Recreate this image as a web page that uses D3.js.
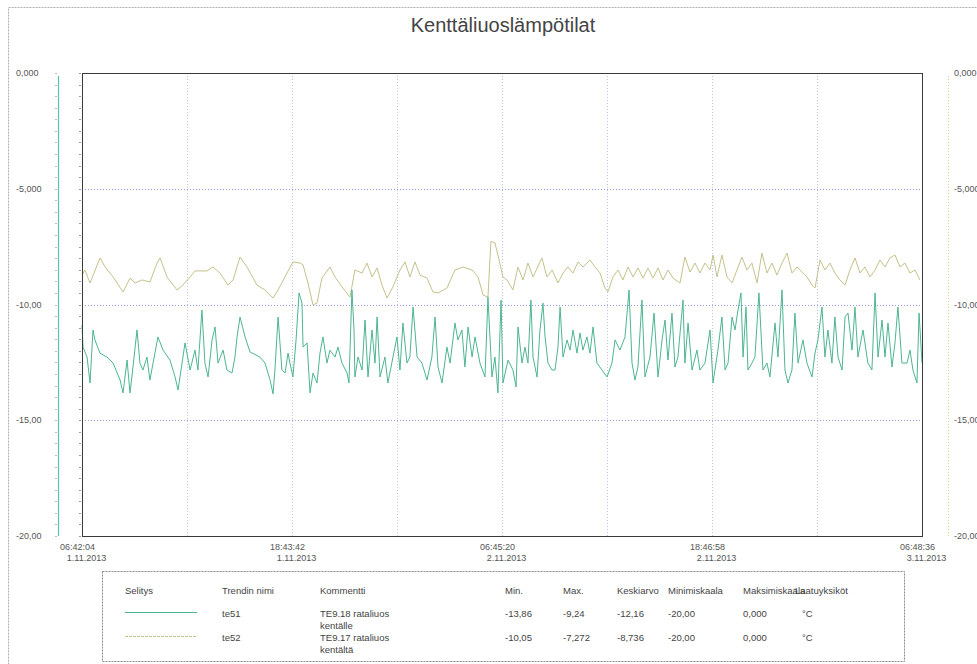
<!DOCTYPE html>
<html><head><meta charset="utf-8">
<script src="https://cdn.jsdelivr.net/npm/d3@7"></script>
<style>body{margin:0;background:#fff;}svg{display:block;font-family:"Liberation Sans",Arial,sans-serif;}</style>
</head><body>
<svg id="c" width="977" height="664"></svg>
<script>
const title = "Kenttäliuoslämpötilat";
const startTime = new Date(2013, 10, 1, 6, 42, 4);
const spanSeconds = 48 * 3600 + 6 * 60 + 32;
const xTickCount = 4;
const yTicks = [0, -5, -10, -15, -20];
const yTickLabels = ["0,000", "-5,000", "-10,00", "-15,00", "-20,00"];

// te52 (hours from start, °C)
const t52 = [0,0.17,0.46,1.03,1.32,1.78,2.35,2.75,3.04,3.44,3.89,4.30,4.47,4.87,5.44,5.78,6.19,6.47,7.16,7.50,7.90,8.36,8.65,9.05,9.45,10.02,10.48,10.94,11.23,11.74,12.08,12.49,12.66,12.94,13.23,13.46,13.74,14.20,14.49,14.89,15.35,15.63,16.04,16.32,16.61,16.90,17.18,17.47,17.81,18.21,18.50,18.78,19.07,19.36,19.76,20.10,20.39,20.90,21.36,21.82,22.34,22.68,22.97,23.25,23.42,23.65,23.82,24.11,24.34,24.68,24.97,25.26,25.54,25.83,26.34,26.63,26.92,27.26,27.55,27.83,28.12,28.41,28.69,29.09,29.38,29.67,29.95,30.12,30.41,30.70,30.98,31.27,31.56,31.84,32.13,32.41,32.70,32.99,33.27,33.56,33.85,34.25,34.53,34.82,35.11,35.39,35.68,35.97,36.14,36.37,36.65,36.94,37.23,37.51,37.80,38.08,38.37,38.66,38.94,39.23,39.52,39.80,40.09,40.38,40.66,40.95,41.23,41.52,41.81,41.98,42.27,42.55,42.84,43.12,43.41,43.70,43.98,44.27,44.56,44.84,45.13,45.42,45.70,45.99,46.27,46.56,46.85,47.13,47.42,47.71,47.99];
const v52 = [-8.73,-8.51,-9.07,-7.99,-8.38,-8.81,-9.46,-8.86,-9.07,-8.94,-9.03,-8.21,-7.99,-8.81,-9.37,-9.16,-8.81,-8.55,-8.55,-8.38,-8.64,-9.16,-8.94,-7.95,-8.38,-9.16,-9.37,-9.72,-9.37,-8.64,-8.16,-8.21,-8.29,-9.07,-10.02,-9.94,-8.86,-8.38,-8.81,-9.24,-9.68,-8.51,-8.64,-8.21,-8.81,-8.42,-9.16,-9.72,-9.24,-8.51,-8.16,-8.81,-8.16,-8.73,-8.86,-9.46,-9.50,-9.29,-8.51,-8.38,-8.51,-8.81,-9.59,-9.68,-7.27,-7.34,-7.86,-8.81,-8.94,-9.37,-8.38,-8.94,-8.21,-8.81,-7.99,-8.81,-8.51,-9.07,-8.64,-8.38,-8.64,-8.16,-8.38,-8.08,-8.38,-8.64,-9.29,-9.46,-8.81,-8.51,-8.94,-8.38,-8.81,-8.42,-8.86,-8.42,-8.86,-8.42,-8.94,-8.51,-8.86,-9.07,-7.95,-8.60,-8.21,-8.64,-8.21,-8.51,-7.86,-8.81,-7.86,-8.81,-9.07,-8.51,-7.95,-8.51,-8.21,-9.07,-7.78,-8.64,-8.21,-8.73,-8.21,-7.78,-8.64,-8.38,-8.60,-8.81,-9.16,-9.29,-8.08,-8.51,-8.21,-8.64,-8.94,-9.16,-8.51,-7.99,-8.64,-8.38,-8.81,-8.51,-8.08,-8.38,-7.99,-7.86,-8.38,-8.21,-8.64,-8.51,-8.94];

// te51 (hours from start, °C)
const t51 = [0,0.06,0.29,0.46,0.63,0.74,1.03,1.43,1.78,2.18,2.35,2.58,2.75,2.92,3.15,3.32,3.49,3.72,3.89,4.07,4.35,4.64,5.04,5.33,5.50,5.73,5.90,6.19,6.47,6.64,6.87,7.04,7.22,7.45,7.62,7.79,8.08,8.30,8.59,8.76,8.88,9.05,9.34,9.62,10.19,10.48,10.77,10.94,11.05,11.23,11.45,11.63,11.80,11.91,12.08,12.26,12.43,12.60,12.66,12.89,13.06,13.23,13.46,13.63,13.80,14.03,14.20,14.49,14.66,14.89,15.18,15.29,15.46,15.58,15.63,15.81,16.04,16.21,16.38,16.61,16.78,16.90,17.07,17.35,17.52,17.81,18.04,18.21,18.38,18.61,18.78,18.96,19.19,19.47,19.76,20.04,20.22,20.39,20.62,20.90,21.08,21.36,21.53,21.76,21.93,22.11,22.34,22.51,22.79,23.08,23.25,23.48,23.65,23.82,24.00,24.11,24.40,24.68,24.86,24.97,25.20,25.37,25.54,25.71,25.83,26.06,26.23,26.40,26.52,26.69,26.92,27.09,27.26,27.38,27.55,27.78,27.95,28.12,28.35,28.52,28.69,28.92,29.09,29.27,29.49,29.78,30.07,30.35,30.53,30.81,31.10,31.33,31.50,31.67,31.84,32.07,32.24,32.53,32.76,32.99,33.22,33.39,33.56,33.79,33.96,34.13,34.42,34.53,34.71,34.94,35.22,35.39,35.68,35.97,36.14,36.42,36.65,36.83,37.00,37.23,37.40,37.57,37.74,37.86,38.03,38.14,38.37,38.54,38.77,39.00,39.23,39.40,39.69,39.86,40.09,40.26,40.43,40.66,40.83,41.01,41.29,41.52,41.81,41.98,42.15,42.38,42.55,42.72,42.95,43.12,43.30,43.53,43.70,43.87,44.10,44.27,44.44,44.73,45.01,45.24,45.42,45.59,45.82,45.99,46.16,46.39,46.56,46.73,46.96,47.25,47.42,47.59,47.82,47.94,48.11];
const v51 = [-10.89,-11.84,-12.27,-13.39,-11.10,-11.53,-12.10,-12.27,-12.53,-13.26,-13.82,-12.40,-13.82,-12.70,-11.10,-12.53,-12.83,-12.27,-13.26,-12.53,-11.40,-11.97,-12.40,-13.13,-13.69,-12.53,-11.66,-12.83,-11.97,-12.83,-10.24,-12.53,-13.13,-11.53,-10.97,-12.53,-11.97,-12.83,-12.96,-12.27,-11.40,-10.54,-11.40,-12.05,-12.27,-12.53,-13.26,-13.86,-12.83,-10.54,-12.83,-12.96,-12.10,-12.53,-13.13,-11.53,-9.50,-9.94,-11.84,-11.66,-13.82,-12.96,-13.39,-12.10,-11.40,-12.53,-11.97,-12.27,-11.84,-12.53,-12.96,-13.39,-9.37,-11.10,-13.13,-12.27,-12.83,-10.67,-13.13,-11.10,-12.53,-10.54,-13.13,-12.27,-13.39,-12.27,-11.40,-12.83,-10.80,-12.53,-12.27,-10.11,-12.27,-12.53,-13.26,-12.27,-10.54,-12.70,-13.39,-11.84,-12.53,-10.80,-11.53,-11.10,-12.70,-10.97,-12.27,-11.40,-12.53,-13.13,-9.68,-13.13,-12.27,-13.82,-9.81,-13.39,-12.40,-12.83,-13.56,-10.97,-12.53,-11.84,-12.53,-9.81,-12.27,-13.13,-11.10,-9.94,-11.40,-12.53,-12.83,-12.83,-11.84,-10.11,-12.27,-11.53,-11.97,-11.10,-12.10,-11.23,-11.97,-11.40,-12.10,-10.97,-12.53,-12.83,-13.13,-12.53,-11.53,-11.97,-11.40,-9.37,-12.53,-13.26,-12.70,-9.81,-13.13,-12.27,-10.37,-13.13,-11.53,-10.67,-12.40,-10.37,-12.70,-12.27,-9.81,-12.53,-10.80,-12.83,-11.97,-12.83,-12.53,-11.10,-13.39,-11.97,-10.54,-12.83,-12.53,-10.54,-11.10,-10.24,-9.50,-12.27,-10.11,-12.83,-12.53,-12.27,-9.50,-12.83,-12.53,-13.13,-10.80,-12.27,-9.37,-12.83,-13.39,-12.83,-10.37,-12.53,-11.53,-12.53,-13.13,-12.10,-11.53,-10.11,-12.27,-11.10,-12.53,-10.54,-12.27,-12.83,-10.54,-10.37,-11.97,-10.11,-12.27,-11.10,-12.53,-12.83,-9.50,-12.27,-10.67,-12.27,-10.80,-12.70,-11.66,-10.11,-12.53,-12.53,-11.97,-12.83,-13.39,-10.37,-12.53];

const legendHeaders = ["Selitys", "Trendin nimi", "Kommentti", "Min.", "Max.", "Keskiarvo", "Minimiskaala", "Maksimiskaala", "Laatuyksiköt"];
const seriesNames = ["te51", "te52"];
const seriesComments = [["TE9.18 rataliuos", "kentälle"], ["TE9.17 rataliuos", "kentältä"]];
const seriesMin = ["-13,86", "-10,05"];
const seriesMax = ["-9,24", "-7,272"];
const seriesMean = ["-12,16", "-8,736"];
const seriesScaleMin = ["-20,00", "-20,00"];
const seriesScaleMax = ["0,000", "0,000"];
const seriesUnit = ["°C", "°C"];
const seriesColors = ["#4db592", "#c6c18c"];

const svg = d3.select("#c");
const plot = {l: 82, r: 922, t: 73, b: 536};
const endTime = new Date(startTime.getTime() + spanSeconds * 1000);
const x = d3.scaleTime().domain([startTime, endTime]).range([plot.l, plot.r]);
const y = d3.scaleLinear().domain([-20, 0]).range([plot.b, plot.t]);
const toDate = h => new Date(startTime.getTime() + h * 3600000);

// outer frame
svg.append("rect").attr("x", 8.5).attr("y", 7.5).attr("width", 980).attr("height", 700)
  .attr("fill", "none").attr("stroke", "#b0b0b0").attr("stroke-dasharray", "2,1");

// title
svg.append("text").attr("x", 503).attr("y", 32).attr("text-anchor", "middle")
  .attr("font-size", 20).attr("fill", "#444").text(title);

// grid
const stepMs = spanSeconds * 1000 / xTickCount;
const gridTimes = d3.range(1, xTickCount * 2).map(i => new Date(startTime.getTime() + i * stepMs / 2));
svg.append("g").selectAll("line").data(gridTimes).join("line")
  .attr("x1", d => Math.round(x(d)) + 0.5).attr("x2", d => Math.round(x(d)) + 0.5)
  .attr("y1", plot.t).attr("y2", plot.b)
  .attr("stroke", "#b8c4ea").attr("stroke-dasharray", "1,2");
svg.append("g").selectAll("line").data(yTicks.slice(1, -1)).join("line")
  .attr("x1", plot.l).attr("x2", plot.r)
  .attr("y1", d => Math.round(y(d)) + 0.5).attr("y2", d => Math.round(y(d)) + 0.5)
  .attr("stroke", "#8e9ede").attr("stroke-dasharray", "1,2");

// minor ticks
const minor = d3.range(0, -20.01, -0.5);
svg.append("g").selectAll("line").data(minor).join("line")
  .attr("x1", plot.l - 3).attr("x2", plot.l - 1)
  .attr("y1", d => Math.round(y(d)) + 0.5).attr("y2", d => Math.round(y(d)) + 0.5)
  .attr("stroke", "#9a9a9a");
svg.append("g").selectAll("line").data(minor).join("line")
  .attr("x1", 55).attr("x2", 57)
  .attr("y1", d => Math.round(y(d)) + 0.5).attr("y2", d => Math.round(y(d)) + 0.5)
  .attr("stroke", "#b0c8b0");

// left axis line (te51 scale)
svg.append("line").attr("x1", 58.5).attr("x2", 58.5).attr("y1", y(0) + 3).attr("y2", y(-20))
  .attr("stroke", "#5cc0b2").attr("stroke-width", 1.2);
// right axis line (te52 scale)
svg.append("line").attr("x1", 948.5).attr("x2", 948.5).attr("y1", y(0) + 3).attr("y2", y(-20))
  .attr("stroke", "#d8d090").attr("stroke-dasharray", "1,2");

// y labels
svg.append("g").selectAll("text").data(yTicks).join("text")
  .attr("x", 16).attr("y", d => y(d) + 3).attr("font-size", 9).attr("fill", "#555")
  .text((d, i) => yTickLabels[i]);
svg.append("g").selectAll("text").data(yTicks).join("text")
  .attr("x", 954).attr("y", d => y(d) + 3).attr("font-size", 9).attr("fill", "#555")
  .text((d, i) => yTickLabels[i]);

// series lines
const line = d3.line().x(d => x(toDate(d[0]))).y(d => y(d[1]));
const s51 = t51.map((t, i) => [t, v51[i]]);
const s52 = t52.map((t, i) => [t, v52[i]]);
svg.append("path").datum(s52).attr("d", line).attr("fill", "none")
  .attr("stroke", seriesColors[1]).attr("stroke-width", 1);
svg.append("path").datum(s51).attr("d", line).attr("fill", "none")
  .attr("stroke", seriesColors[0]).attr("stroke-width", 1);

// plot frame
svg.append("rect").attr("x", plot.l + 0.5).attr("y", plot.t + 0.5)
  .attr("width", plot.r - plot.l).attr("height", plot.b - plot.t)
  .attr("fill", "none").attr("stroke", "#3a3a3a").attr("stroke-width", 1);

// x labels
const xTicks = d3.range(0, xTickCount + 1).map(i => new Date(startTime.getTime() + i * stepMs));
const fTime = d3.timeFormat("%H:%M:%S"), fDate = d3.timeFormat("%-d.%-m.%Y");
const xl = svg.append("g").selectAll("g").data(xTicks).join("g");
xl.append("text").attr("x", d => x(d) - 4.5).attr("y", 550).attr("text-anchor", "middle")
  .attr("font-size", 9).attr("fill", "#555").text(d => fTime(d));
xl.append("text").attr("x", d => x(d) + 4.5).attr("y", 561).attr("text-anchor", "middle")
  .attr("font-size", 9).attr("fill", "#555").text(d => fDate(d));

// legend table
svg.append("rect").attr("x", 102.5).attr("y", 571.5).attr("width", 802).attr("height", 90)
  .attr("fill", "none").attr("stroke", "#8a8a8a").attr("stroke-dasharray", "2,1");
const colX = [125, 222, 320, 505, 563, 617, 668, 743, 795];
svg.append("g").selectAll("text").data(legendHeaders).join("text")
  .attr("x", (d, i) => colX[i]).attr("y", 594).attr("font-size", 9.5).attr("fill", "#444")
  .text(d => d);
const rowY = [617, 641];
seriesNames.forEach((name, i) => {
  const g = svg.append("g");
  const yy = rowY[i];
  g.append("line").attr("x1", 125).attr("x2", 197).attr("y1", yy - 4.5).attr("y2", yy - 4.5)
    .attr("stroke", seriesColors[i]).attr("stroke-width", 1.2)
    .attr("stroke-dasharray", i === 1 ? "3,1" : null);
  const cells = [name, seriesComments[i][0], seriesMin[i], seriesMax[i], seriesMean[i], seriesScaleMin[i], seriesScaleMax[i], seriesUnit[i]];
  const cx = [222, 320, 505, 563, 617, 668, 743, 802];
  cells.forEach((c, j) => g.append("text").attr("x", cx[j]).attr("y", yy).attr("font-size", 9.5)
    .attr("fill", "#444").text(c));
  g.append("text").attr("x", 320).attr("y", yy + 12).attr("font-size", 9.5).attr("fill", "#444")
    .text(seriesComments[i][1]);
});
</script>
</body></html>
